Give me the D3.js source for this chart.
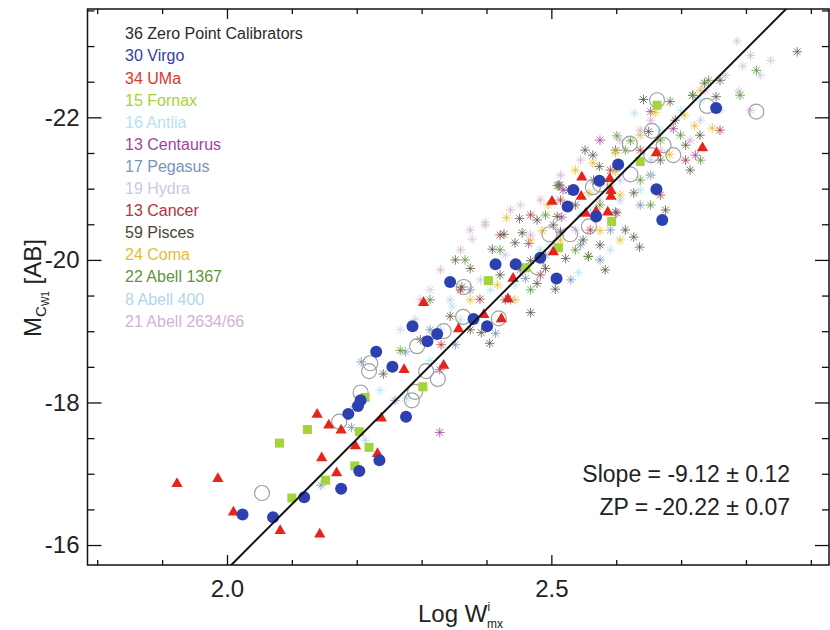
<!DOCTYPE html>
<html>
<head>
<meta charset="utf-8">
<script src="https://cdn.jsdelivr.net/npm/d3@7"></script>
<style>
body { margin: 0; background: #fff; }
text { font-family: "Liberation Sans", Arial, Helvetica, sans-serif; }
</style>
</head>
<body>
<div id="chart"></div>
<script>
// [log W, M] pairs per sample
var calibrators = [[2.054,-16.73],[2.173,-17.73],[2.206,-18.14],[2.221,-18.55],[2.219,-18.44],[2.293,-18.79],
    [2.334,-19.00],[2.307,-18.44],[2.325,-18.33],[2.285,-18.03],[2.290,-18.15],[2.364,-19.20],[2.419,-19.18],
    [2.365,-19.62],[2.478,-19.90],[2.497,-20.36],[2.529,-20.36],[2.558,-20.47],[2.564,-21.02],[2.575,-21.06],
    [2.622,-21.20],[2.654,-21.47],[2.688,-21.47],[2.663,-22.24],[2.740,-22.16],[2.816,-22.08],[2.655,-21.81],
    [2.621,-21.63],[2.673,-21.61]];
var virgo = [[2.024,-16.43],[2.071,-16.39],[2.119,-16.67],[2.176,-16.79],[2.204,-17.04],[2.235,-17.19],
    [2.187,-17.84],[2.202,-17.95],[2.206,-18.03],[2.276,-17.80],[2.230,-18.71],[2.255,-18.50],[2.286,-19.07],
    [2.309,-18.86],[2.324,-18.96],[2.344,-19.69],[2.380,-19.17],[2.401,-19.07],[2.414,-19.94],[2.445,-19.94],
    [2.483,-20.03],[2.508,-19.74],[2.525,-20.75],[2.534,-20.98],[2.569,-20.61],[2.574,-21.11],[2.603,-21.34],
    [2.662,-20.99],[2.671,-20.56],[2.754,-22.13]];
var uma = [[1.923,-16.86],[1.986,-16.93],[2.010,-16.46],[2.082,-16.20],[2.143,-16.15],[2.139,-17.83],
    [2.157,-17.68],[2.176,-17.61],[2.146,-17.22],[2.169,-17.01],[2.198,-17.39],[2.238,-17.78],[2.232,-17.28],
    [2.273,-18.46],[2.303,-19.40],[2.334,-18.52],[2.433,-19.45],[2.396,-19.23],[2.423,-19.17],[2.357,-19.03],
    [2.441,-19.74],[2.503,-20.11],[2.547,-21.16],[2.546,-20.89],[2.501,-20.82],[2.553,-20.65],[2.569,-20.68],
    [2.587,-20.67],[2.592,-20.97],[2.592,-20.89],[2.590,-21.14],[2.662,-21.50],[2.733,-21.57]];
var fornax = [[2.081,-17.43],[2.124,-17.62],[2.100,-16.66],[2.152,-16.91],[2.197,-17.11],[2.219,-17.37],
    [2.204,-17.59],[2.213,-18.07],[2.302,-18.22],[2.403,-19.71],[2.460,-19.89],[2.511,-20.17],[2.593,-20.54],
    [2.637,-21.38],[2.663,-22.17]];
var antlia = [[2.542,-19.82],[2.347,-19.35],[2.628,-22.06],[2.267,-19.02],[2.313,-18.59],[2.360,-19.16],
    [2.406,-19.58],[2.444,-19.65],[2.498,-20.21],[2.560,-20.70],[2.591,-20.14],[2.637,-20.98],[2.668,-21.82],
    [2.699,-22.10],[2.730,-22.24],[2.236,-18.17]];
var centaurus = [[2.516,-20.60],[2.465,-20.23],[2.518,-20.98],[2.601,-20.66],[2.722,-21.47],[2.328,-18.46],
    [2.328,-17.58],[2.653,-22.08],[2.688,-21.84],[2.511,-21.05],[2.198,-17.94],[2.452,-19.86],[2.575,-21.68]];
var pegasus = [[2.207,-18.57],[2.275,-18.71],[2.192,-17.65],[2.145,-16.84],[2.414,-18.97],[2.460,-19.74],
    [2.313,-19.02],[2.375,-19.58],[2.437,-19.44],[2.491,-20.07],[2.545,-20.21],[2.591,-20.42],[2.259,-18.03],
    [2.352,-18.81],[2.637,-20.77],[2.530,-19.72],[2.575,-20.00]];
var hydra = [[2.378,-20.29],[2.398,-20.53],[2.786,-23.07],[2.795,-22.72],[2.789,-22.37],[2.452,-20.77],
    [2.344,-19.44],[2.391,-19.72],[2.429,-20.07],[2.514,-20.42],[2.575,-20.84],[2.606,-21.12],[2.653,-21.40],
    [2.730,-21.96],[2.760,-22.10],[2.822,-22.59],[2.313,-19.58],[2.290,-19.16],[2.838,-22.80]];
var cancer = [[2.390,-19.45],[2.360,-19.58],[2.330,-18.81],[2.421,-20.35],[2.468,-20.63],[2.514,-20.84],
    [2.560,-20.42],[2.591,-21.26],[2.637,-21.54],[2.668,-20.91],[2.707,-21.40],[2.760,-21.82],[2.483,-19.79]];
var pisces = [[2.352,-20.00],[2.409,-20.15],[2.427,-20.36],[2.451,-20.58],[2.455,-20.38],[2.478,-20.56],
    [2.503,-20.49],[2.549,-20.28],[2.557,-20.05],[2.522,-20.02],[2.478,-19.67],[2.506,-19.59],[2.468,-19.26],
    [2.344,-19.21],[2.405,-18.83],[2.627,-20.32],[2.636,-20.18],[2.627,-20.94],[2.564,-21.47],[2.601,-21.30],
    [2.527,-20.98],[2.513,-21.05],[2.509,-20.61],[2.574,-21.31],[2.599,-20.67],[2.392,-18.98],[2.362,-19.62],
    [2.879,-22.92],[2.736,-22.48],[2.754,-22.29],[2.642,-22.25],[2.683,-22.22],[2.650,-21.80],[2.707,-21.61],
    [2.729,-21.75],[2.565,-21.12],[2.718,-22.31],[2.599,-21.54],[2.241,-18.40],[2.375,-19.88],[2.429,-19.44],
    [2.444,-20.24],[2.491,-19.88],[2.575,-20.21],[2.614,-20.42],[2.668,-21.40],[2.691,-21.96],[2.714,-21.26],
    [2.760,-22.52],[2.653,-21.19],[2.537,-20.77],[2.468,-19.99],[2.375,-19.02],[2.298,-18.88],[2.583,-19.86],
    [2.514,-20.39],[2.552,-21.54],[2.421,-19.79],[2.676,-20.70]];
var coma = [[2.431,-20.59],[2.486,-20.41],[2.564,-21.36],[2.575,-20.41],[2.558,-20.94],[2.599,-21.24],
    [2.682,-21.48],[2.705,-22.03],[2.721,-21.88],[2.748,-21.85],[2.599,-21.50],[2.417,-19.65],[2.468,-20.28],
    [2.514,-20.28],[2.537,-21.26],[2.637,-21.75],[2.660,-22.07],[2.730,-22.38],[2.606,-20.91],[2.495,-20.77],
    [2.606,-20.28],[2.375,-19.44],[2.444,-19.44],[2.591,-21.05]];
var abell1367 = [[2.816,-22.66],[2.742,-22.52],[2.601,-21.74],[2.622,-21.67],[2.557,-20.05],[2.509,-21.04],
    [2.718,-22.31],[2.313,-19.44],[2.367,-20.00],[2.421,-20.14],[2.468,-19.58],[2.491,-20.63],[2.537,-20.14],
    [2.575,-20.77],[2.614,-21.54],[2.653,-20.77],[2.668,-21.68],[2.699,-21.75],[2.730,-21.40],[2.791,-22.31],
    [2.637,-21.12],[2.267,-18.73]];
var abell400 = [[2.277,-18.06],[2.213,-17.47],[2.421,-19.16],[2.483,-20.14],[2.545,-20.63],[2.606,-20.84],
    [2.653,-21.19],[2.329,-19.02]];
var abell2634 = [[2.398,-20.49],[2.437,-20.70],[2.483,-20.84],[2.514,-21.19],[2.545,-21.40],[2.606,-21.68],
    [2.653,-21.96],[2.737,-22.38],[2.768,-22.59],[2.807,-22.10],[2.360,-20.14],[2.375,-20.42],[2.468,-20.35],
    [2.575,-21.05],[2.668,-21.54],[2.714,-21.68],[2.329,-19.86],[2.298,-19.44],[2.807,-22.87],[2.637,-21.82],
    [2.537,-20.42]];

var legendLabels = ['36 Zero Point Calibrators', '30 Virgo', '34 UMa', '15 Fornax', '16 Antlia',
    '13 Centaurus', '17 Pegasus', '19 Hydra', '13 Cancer', '59 Pisces', '24 Coma', '22 Abell 1367',
    '8 Abell 400', '21 Abell 2634/66'];
var legendColors = ['#2b2b2b', '#35409c', '#e0352b', '#a5d236', '#b5e2f2', '#a8409f', '#7893b8',
    '#c9c9e0', '#b2353c', '#4a4535', '#e8bd2e', '#5f9535', '#b0d5ef', '#d6b0d6'];

var xTicks = [2.0, 2.5];
var yTicks = [-22, -20, -18, -16];
var slope = -9.12, zp = -20.22, pivot = 2.5;

var width = 830, height = 630;
var x = d3.scaleLinear().domain([1.785, 2.928]).range([87.5, 829]);
var y = d3.scaleLinear().domain([-15.72, -23.52]).range([565, 9]);

var svg = d3.select('#chart').append('svg')
    .attr('width', width)
    .attr('height', height);

svg.append('clipPath').attr('id', 'clip')
    .append('rect')
    .attr('x', x.range()[0]).attr('y', y.range()[1])
    .attr('width', x.range()[1] - x.range()[0])
    .attr('height', y.range()[0] - y.range()[1]);

var plot = svg.append('g').attr('clip-path', 'url(#clip)');

// asterisk marker
function asterisk(r) {
    var a = r * 0.707;
    return 'M' + (-r) + ',0L' + r + ',0M0,' + (-r) + 'L0,' + r +
        'M' + (-a) + ',' + (-a) + 'L' + a + ',' + a + 'M' + (-a) + ',' + a + 'L' + a + ',' + (-a);
}

var starSets = [
    [antlia, legendColors[4]], [centaurus, legendColors[5]], [pegasus, legendColors[6]],
    [hydra, legendColors[7]], [cancer, legendColors[8]], [pisces, '#5e5848'], [coma, legendColors[10]],
    [abell1367, legendColors[11]], [abell400, legendColors[12]], [abell2634, legendColors[13]]
];
starSets.forEach(function(s) {
    plot.append('g').selectAll('path')
        .data(s[0]).enter().append('path')
        .attr('transform', function(d) { return 'translate(' + x(d[0]) + ',' + y(d[1]) + ')'; })
        .attr('d', asterisk(4.8))
        .attr('fill', 'none')
        .attr('stroke', s[1])
        .attr('stroke-opacity', 0.85)
        .attr('stroke-width', 0.95);
});

plot.append('g').selectAll('circle')
    .data(calibrators).enter().append('circle')
    .attr('cx', function(d) { return x(d[0]); })
    .attr('cy', function(d) { return y(d[1]); })
    .attr('r', 7.5)
    .attr('fill', 'none')
    .attr('stroke', '#a0a0a0')
    .attr('stroke-width', 1.2);

plot.append('g').selectAll('rect')
    .data(fornax).enter().append('rect')
    .attr('x', function(d) { return x(d[0]) - 4.5; })
    .attr('y', function(d) { return y(d[1]) - 4.5; })
    .attr('width', 9).attr('height', 9)
    .attr('fill', '#a3d43a');

var tri = d3.symbol().type(d3.symbolTriangle).size(55);
plot.append('g').selectAll('path')
    .data(uma).enter().append('path')
    .attr('transform', function(d) { return 'translate(' + x(d[0]) + ',' + y(d[1]) + ')'; })
    .attr('d', tri)
    .attr('fill', '#e8231c');

plot.append('g').selectAll('circle')
    .data(virgo).enter().append('circle')
    .attr('cx', function(d) { return x(d[0]); })
    .attr('cy', function(d) { return y(d[1]); })
    .attr('r', 6)
    .attr('fill', '#2d40b0');

// fit line
var fit = function(v) { return zp + slope * (v - pivot); };
plot.append('line')
    .attr('x1', x(x.domain()[0])).attr('y1', y(fit(x.domain()[0])))
    .attr('x2', x(x.domain()[1])).attr('y2', y(fit(x.domain()[1])))
    .attr('stroke', '#111')
    .attr('stroke-width', 2);

// axes, ticks drawn inward
var xMinor = d3.range(18, 30).map(function(v) { return v / 10; }).filter(function(v) { return xTicks.indexOf(v) < 0; });
var yMinor = d3.range(-47, -31).map(function(v) { return v / 2; }).filter(function(v) { return yTicks.indexOf(v) < 0; });

function styleAxis(g) {
    g.select('.domain').remove();
    g.selectAll('line').attr('stroke', '#111').attr('stroke-width', 1.3);
    g.selectAll('text').attr('fill', '#222').style('font-size', '24px')
        .style('font-family', '"Liberation Sans", Arial, sans-serif');
}

svg.append('g').attr('transform', 'translate(0,565)')
    .call(d3.axisBottom(x).tickValues(xTicks).tickSize(-10).tickPadding(15).tickFormat(d3.format('.1f')))
    .call(styleAxis);
svg.append('g').attr('transform', 'translate(0,565)')
    .call(d3.axisBottom(x).tickValues(xMinor).tickSize(-5).tickFormat(''))
    .call(styleAxis);
svg.append('g').attr('transform', 'translate(0,9)')
    .call(d3.axisTop(x).tickValues(xTicks).tickSize(-10).tickFormat(''))
    .call(styleAxis);
svg.append('g').attr('transform', 'translate(0,9)')
    .call(d3.axisTop(x).tickValues(xMinor).tickSize(-5).tickFormat(''))
    .call(styleAxis);
svg.append('g').attr('transform', 'translate(87.5,0)')
    .call(d3.axisLeft(y).tickValues(yTicks).tickSize(-14).tickPadding(8).tickFormat(d3.format('d')))
    .call(styleAxis);
svg.append('g').attr('transform', 'translate(87.5,0)')
    .call(d3.axisLeft(y).tickValues(yMinor).tickSize(-7).tickFormat(''))
    .call(styleAxis);
svg.append('g').attr('transform', 'translate(829,0)')
    .call(d3.axisRight(y).tickValues(yTicks).tickSize(-14).tickFormat(''))
    .call(styleAxis);
svg.append('g').attr('transform', 'translate(829,0)')
    .call(d3.axisRight(y).tickValues(yMinor).tickSize(-7).tickFormat(''))
    .call(styleAxis);

// use a plain hyphen for negative tick labels
svg.selectAll('.tick text').text(function() { return d3.select(this).text().replace('\u2212', '-'); });

svg.append('rect')
    .attr('x', 87.5).attr('y', 9)
    .attr('width', 829 - 87.5).attr('height', 565 - 9)
    .attr('fill', 'none')
    .attr('stroke', '#111')
    .attr('stroke-width', 1.5);

// legend
svg.append('g').selectAll('text')
    .data(legendLabels).enter().append('text')
    .attr('x', 125)
    .attr('y', function(d, i) { return 39.3 + i * 22.1; })
    .attr('fill', function(d, i) { return legendColors[i]; })
    .style('font-size', '16px')
    .text(function(d) { return d; });

// fit annotation
svg.append('text').attr('x', 790).attr('y', 482).attr('text-anchor', 'end')
    .style('font-size', '23px').attr('fill', '#222')
    .text('Slope = ' + slope.toFixed(2) + ' \u00b1 0.12');
svg.append('text').attr('x', 790).attr('y', 515).attr('text-anchor', 'end')
    .style('font-size', '23px').attr('fill', '#222')
    .text('ZP = ' + zp.toFixed(2) + ' \u00b1 0.07');

// axis titles
var xl = svg.append('text').attr('x', 418).attr('y', 622).attr('fill', '#222').style('font-size', '24px');
xl.append('tspan').text('Log W');
xl.append('tspan').attr('dy', -11).style('font-size', '12px').text('i');
xl.append('tspan').attr('dx', -3).attr('dy', 17).style('font-size', '12px').text('mx');

var yl = svg.append('text').attr('transform', 'translate(41,288) rotate(-90)')
    .attr('text-anchor', 'middle').attr('fill', '#222').style('font-size', '24px');
yl.append('tspan').text('M');
yl.append('tspan').attr('dy', 5).style('font-size', '15px').text('C');
yl.append('tspan').attr('dy', 3).style('font-size', '10px').text('W1');
yl.append('tspan').attr('dy', -8).text(' [AB]');
</script>
</body>
</html>
